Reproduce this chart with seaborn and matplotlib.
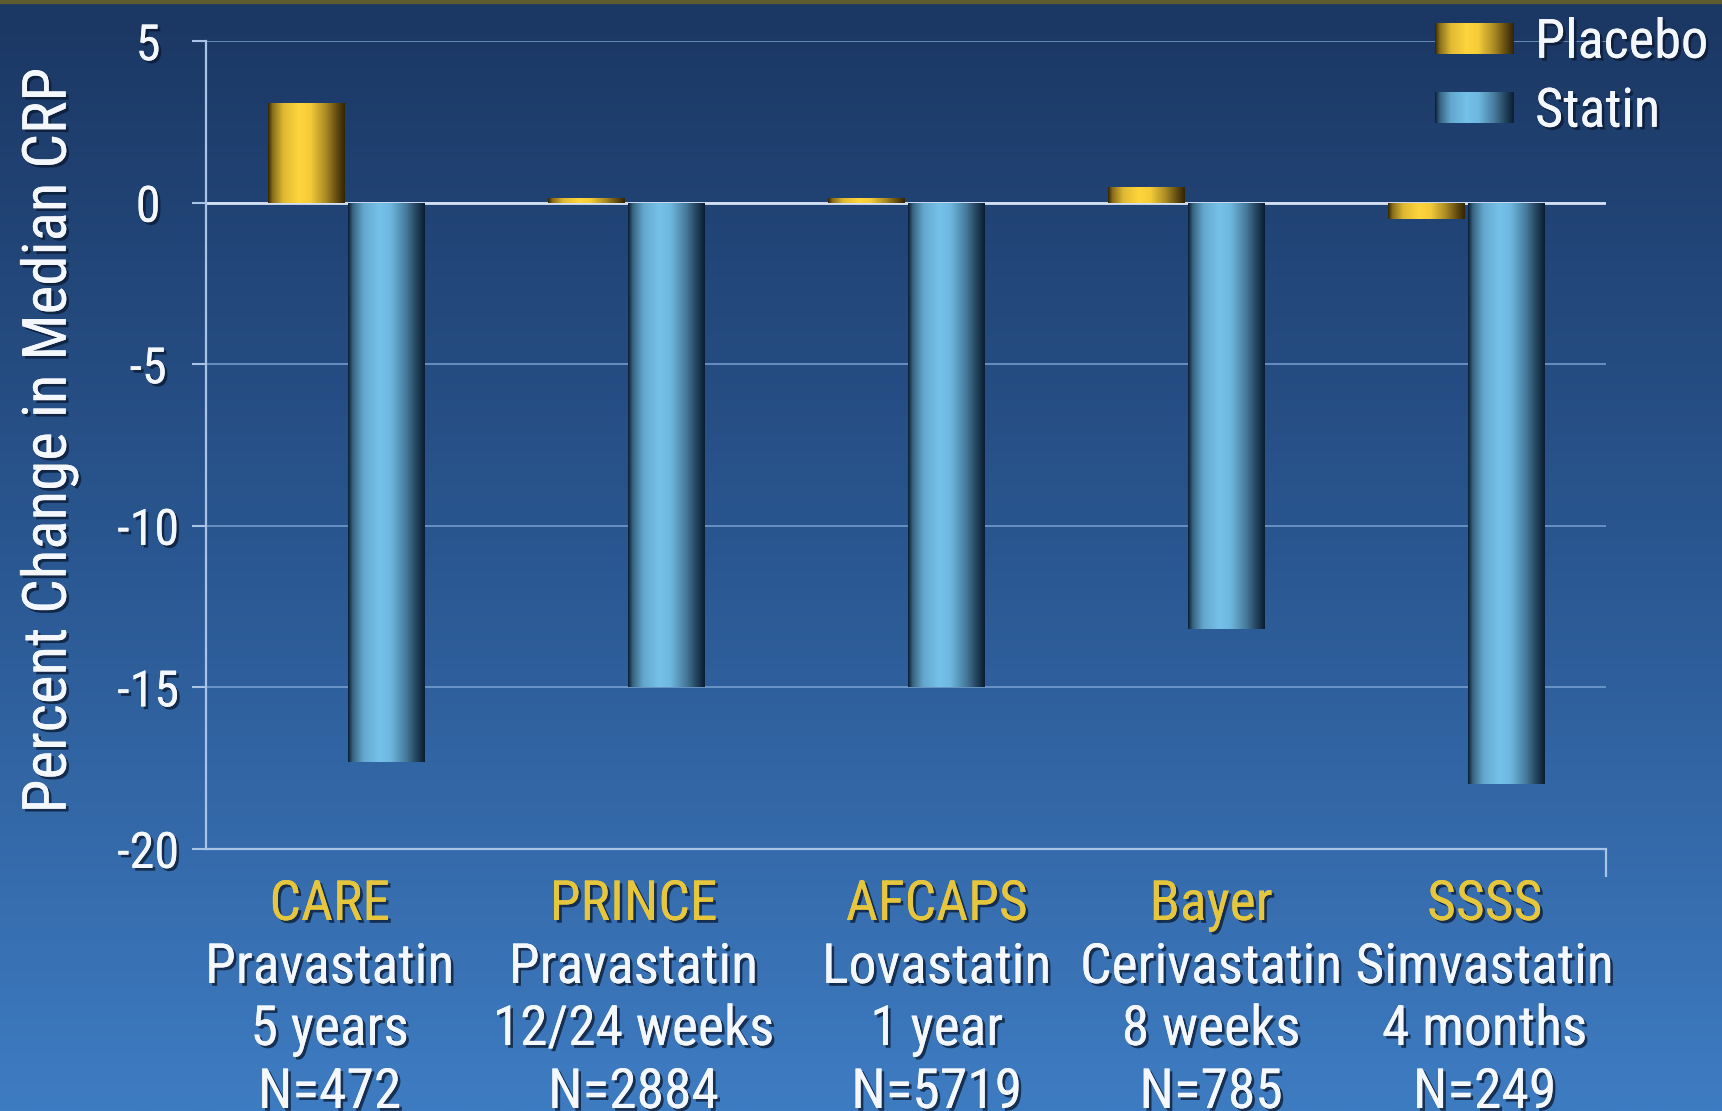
import numpy as np
import pandas as pd
import matplotlib
matplotlib.use("Agg")
import matplotlib.pyplot as plt
import matplotlib.patheffects as pe
import matplotlib.transforms as mtransforms
from matplotlib import font_manager as fm
from matplotlib.colors import to_rgb
from matplotlib.patches import Rectangle
import seaborn as sns

# ---- data -------------------------------------------------------------
studies = ["CARE", "PRINCE", "AFCAPS", "Bayer", "SSSS"]
drugs = ["Pravastatin", "Pravastatin", "Lovastatin", "Cerivastatin", "Simvastatin"]
durations = ["5 years", "12/24 weeks", "1 year", "8 weeks", "4 months"]
sample_sizes = ["N=472", "N=2884", "N=5719", "N=785", "N=249"]
groups = ["Placebo", "Statin"]
placebo = [3.1, 0.15, 0.15, 0.5, -0.5]
statin = [-17.3, -15.0, -15.0, -13.2, -18.0]
y_ticks = [5, 0, -5, -10, -15, -20]

# layout: horizontal centres of the caption blocks below the axis (data units)
caption_x = [-0.06, 1.025, 2.108, 3.088, 4.065]

df = pd.DataFrame({
    "study": studies * 2,
    "group": [groups[0]] * len(studies) + [groups[1]] * len(studies),
    "value": placebo + statin,
})


# ---- font: prefer a narrow sans face --------------------------------
def pick_font():
    prefs = ["Liberation Sans Narrow", "Roboto Condensed", "Open Sans Condensed",
             "Noto Sans Condensed", "DejaVu Sans Condensed"]
    regular = lambda e: e.style == "normal" and e.weight in (400, "normal", "regular", "book")
    for name in prefs:
        for e in fm.fontManager.ttflist:
            if e.name == name and regular(e):
                return e.name, e.stretch
    for e in fm.fontManager.ttflist:
        if e.stretch in ("condensed", "semi-condensed") and regular(e) \
                and e.name in ("DejaVu Sans", "Noto Sans", "Roboto", "Open Sans", "Liberation Sans"):
            return e.name, e.stretch
    return "Liberation Sans", "normal"


FONT_NAME, FONT_STRETCH = pick_font()

sns.set_theme(style="white")
plt.rcParams["font.family"] = [FONT_NAME, "DejaVu Sans"]
plt.rcParams["font.stretch"] = FONT_STRETCH
plt.rcParams["axes.unicode_minus"] = False

GOLD = "#E6C63C"
WHITE = "#F4F7FC"
AXIS_COL = "#A9C3E6"
GRID_COL = "#7EA4D4"
palette = {"Placebo": "#F2C832", "Statin": "#6CB8E2"}
shades = {"Placebo": ("#2A1C02", "#FFD53C"), "Statin": ("#06162A", "#74C1EA")}
shadow = [pe.withSimplePatchShadow(offset=(2, -2), shadow_rgbFace="#0A1830", alpha=0.75),
          pe.Normal()]

W, H = 1722, 1111
fig = plt.figure(figsize=(W / 100, H / 100), dpi=100)
renderer = fig.canvas.get_renderer()


def fit_size(text, target_px, cap):
    """Font size (pt) giving the text roughly target_px width, capped."""
    probe = fig.text(0, 0, text, fontsize=40)
    width = probe.get_window_extent(renderer).width
    probe.remove()
    return min(cap, 40 * target_px / width)


cat_size = fit_size("Cerivastatin", 262, 48)
ylab_size = fit_size("Percent Change in Median CRP", 745, 46)
tick_size = fit_size("-10", 62, 46)
leg_size = fit_size("Placebo", 173, 46)

# background gradient
bg = fig.add_axes([0, 0, 1, 1], zorder=-10)
stops = np.array([to_rgb("#1B3763"), to_rgb("#2A5791"), to_rgb("#3E7CC2")])
yy = np.linspace(0, 1, 400)
grad = np.stack([np.interp(yy, [0, 0.5, 1], stops[:, c]) for c in range(3)], axis=-1)
bg.imshow(grad[:, None, :], aspect="auto", extent=[0, 1, 0, 1], origin="upper")
bg.set_axis_off()
fig.patches.append(Rectangle((0, 1 - 3 / H), 1, 3 / H, transform=fig.transFigure,
                             color="#5E5C2E", zorder=5))

ax = fig.add_axes([0.1199, 0.2359, 0.813, 0.727])
ax.set_facecolor("none")

sns.barplot(data=df, x="study", y="value", hue="group", order=studies,
            hue_order=groups, palette=palette, saturation=1, width=0.57,
            gap=0.04, linewidth=0, ax=ax, legend=True, zorder=3)

# cylindrical shading on each bar
t = np.linspace(0, 1, 200)
profile = np.interp(t, [0, 0.06, 0.2, 0.4, 0.55, 0.75, 0.9, 1.0],
                    [0.05, 0.45, 0.85, 1.0, 0.95, 0.6, 0.25, 0.04])


def shade_img(group):
    dark, bright = (np.array(to_rgb(c)) for c in shades[group])
    img = dark[None, :] + (bright - dark)[None, :] * profile[:, None]
    return img[None, :, :]


for patch in list(ax.patches):
    fc = np.array(patch.get_facecolor()[:3])
    group = min(groups, key=lambda g: np.abs(fc - np.array(to_rgb(palette[g]))).sum())
    x, y = patch.get_x(), patch.get_y()
    w, h = patch.get_width(), patch.get_height()
    im = ax.imshow(shade_img(group), extent=[x, x + w, min(y, y + h), max(y, y + h)],
                   aspect="auto", interpolation="bilinear", zorder=3.5)
    im.set_clip_path(patch)

# axes, ticks and grid
ax.set_xlim(-0.5, 4.5)
ax.set_ylim(-20, 5)
ax.set_yticks(y_ticks)
ax.yaxis.grid(True, color=GRID_COL, lw=1.4, alpha=0.75, zorder=1)
ax.axhline(0, color="#D6E2F3", lw=2.0, zorder=2)
ax.set_axisbelow(True)
for side in ["top", "right"]:
    ax.spines[side].set_visible(False)
for side in ["left", "bottom"]:
    ax.spines[side].set_color(AXIS_COL)
    ax.spines[side].set_linewidth(1.6)

ax.tick_params(axis="y", left=True, length=10, width=1.5, color=AXIS_COL, pad=32,
               labelsize=tick_size, labelcolor=WHITE)
for lab in ax.get_yticklabels():
    lab.set_ha("center")
    lab.set_path_effects(shadow)

ax.set_xticks(range(len(studies)))
ax.set_xticklabels([""] * len(studies))
ax.tick_params(axis="x", which="major", length=0)
ax.set_xticks([4.5], minor=True)
ax.tick_params(axis="x", which="minor", bottom=True, length=20, width=1.6,
               color=AXIS_COL, direction="out")
ax.set_xlabel("")

ax.set_ylabel("Percent Change in Median CRP", fontsize=ylab_size, color=WHITE)
ax.yaxis.label.set_va("center")
ax.yaxis.set_label_coords(-0.1125, 0.506)
ax.yaxis.label.set_path_effects(shadow)

# multi-line category captions
trans = mtransforms.blended_transform_factory(ax.transData, ax.transAxes)
baselines = [-0.088, -0.166, -0.2428, -0.3208]
for i in range(len(studies)):
    lines = [studies[i], drugs[i], durations[i], sample_sizes[i]]
    for j, (txt, yb) in enumerate(zip(lines, baselines)):
        ax.text(caption_x[i], yb, txt, transform=trans, ha="center", va="baseline",
                fontsize=cat_size, color=GOLD if j == 0 else WHITE,
                path_effects=shadow, clip_on=False)

# legend
handles, labels = ax.get_legend_handles_labels()
leg = ax.legend(handles, labels, loc="upper right", bbox_to_anchor=(0.992, 0.984),
                bbox_transform=fig.transFigure, frameon=False, fontsize=leg_size,
                handlelength=1.45, handleheight=0.5, handletextpad=0.4,
                labelspacing=0.33, borderpad=0, borderaxespad=0)
for txt in leg.get_texts():
    txt.set_color(WHITE)
    txt.set_path_effects(shadow)

fig.canvas.draw()
inv = fig.transFigure.inverted()
for patch, lab in zip(leg.get_patches(), labels):
    bb = patch.get_window_extent()
    (x0, y0), (x1, y1) = inv.transform([[bb.x0, bb.y0], [bb.x1, bb.y1]])
    lax = fig.add_axes([x0, y0, x1 - x0, y1 - y0], zorder=20)
    lax.imshow(shade_img(lab), aspect="auto", interpolation="bilinear")
    lax.set_axis_off()

fig.savefig("out.png", dpi=100)
